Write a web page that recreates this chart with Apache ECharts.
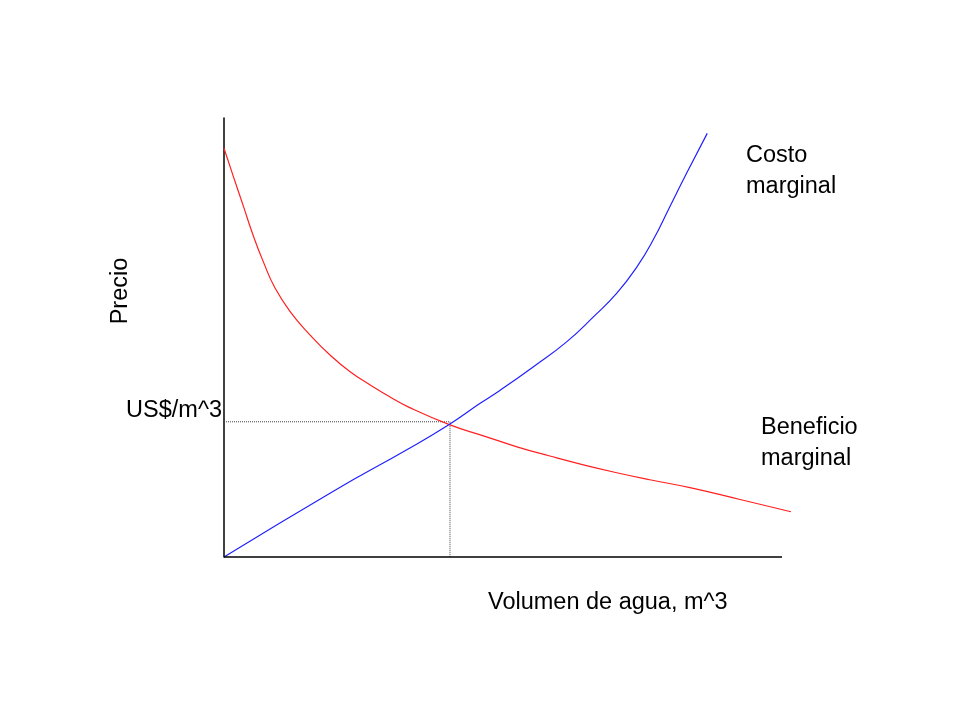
<!DOCTYPE html>
<html>
<head>
<meta charset="utf-8">
<script src="https://cdn.jsdelivr.net/npm/echarts@6/dist/echarts.min.js"></script>
<style>
  html,body{margin:0;padding:0;background:#fff;}
  #chart{width:960px;height:720px;}
</style>
</head>
<body>
<div id="chart"></div>
<script>
// curvas (x: volumen 0-100, y: precio 0-100)
const beneficioX = [0, 1.7, 3.5, 5.3, 7.0, 9.1, 12.1, 15.4, 19.0, 22.6, 26.2, 29.7, 33.0, 40.5, 46.5, 52.5, 58.4, 64.4, 70.4, 76.3, 83.5, 92.5, 101.6];
const beneficioY = [93.1, 86.6, 79.8, 73.0, 67.4, 61.4, 55.5, 50.6, 46.0, 42.2, 39.2, 36.5, 34.2, 30.1, 27.6, 25.1, 23.0, 21.0, 19.2, 17.6, 15.8, 13.1, 10.3];

const costoX = [0, 19.6, 33.0, 40.5, 45.9, 49.5, 55.4, 61.4, 66.2, 70.4, 74.0, 76.9, 79.9, 82.9, 86.6];
const costoY = [0, 15.0, 24.6, 30.3, 35.0, 38.0, 43.3, 49.0, 54.7, 60.1, 66.1, 72.2, 79.8, 87.4, 96.5];

const equilibrio = [40.5, 30.8];
const ejeX = [0, 100];      // la linea del eje horizontal termina en 100
const maxX = 101.6;         // la curva roja pasa un poco mas alla

const zip = (xs, ys) => xs.map((x, i) => [x, ys[i]]);

const font = '23.5px "Liberation Sans", Arial, sans-serif';
const label = (text, x, y, extra) => ({
	type: 'text', x, y,
	style: Object.assign({text, font, fill: '#000', verticalAlign: 'middle', lineHeight: 31}, extra || {})
});

const chart = echarts.init(document.getElementById('chart'));
chart.setOption({
	animation: false,
	backgroundColor: '#fff',
	grid: {left: 224, top: 118, width: 5.58 * maxX, height: 439},
	xAxis: {
		type: 'value', min: 0, max: maxX,
		axisLine: {show: false},
		axisTick: {show: false}, axisLabel: {show: false}, splitLine: {show: false}
	},
	yAxis: {
		type: 'value', min: 0, max: 100,
		axisLine: {show: true, lineStyle: {color: '#000', width: 1.5}},
		axisTick: {show: false}, axisLabel: {show: false}, splitLine: {show: false}
	},
	series: [
		{
			// guias punteadas + eje horizontal
			type: 'line', symbol: 'none', silent: true,
			data: [[0, equilibrio[1]], equilibrio, [equilibrio[0], 0]],
			lineStyle: {color: '#444', width: 1, type: [1, 1]},
			markLine: {
				silent: true, symbol: 'none', label: {show: false},
				lineStyle: {color: '#000', width: 1.5, type: 'solid'},
				data: [[{coord: [ejeX[0], 0]}, {coord: [ejeX[1], 0]}]]
			}
		},
		{
			name: 'Beneficio marginal', type: 'line', symbol: 'none',
			smooth: 0.5,
			data: zip(beneficioX, beneficioY),
			lineStyle: {color: '#ff2020', width: 1.2}
		},
		{
			name: 'Costo marginal', type: 'line', symbol: 'none',
			smooth: 0.5,
			data: zip(costoX, costoY),
			lineStyle: {color: '#2020ff', width: 1.2}
		}
	],
	graphic: [
		label('Precio', 121, 291, {textAlign: 'center'}),
		label('US$/m^3', 222, 411, {textAlign: 'right'}),
		label('Volumen de agua, m^3', 488, 603, {textAlign: 'left'}),
		label('Costo\nmarginal', 746, 171, {textAlign: 'left'}),
		label('Beneficio\nmarginal', 761, 443, {textAlign: 'left'})
	]
});
// girar la etiqueta del eje vertical
const opt = chart.getOption();
opt.graphic[0].elements[0].rotation = Math.PI / 2;
chart.setOption({graphic: opt.graphic});
</script>
</body>
</html>
